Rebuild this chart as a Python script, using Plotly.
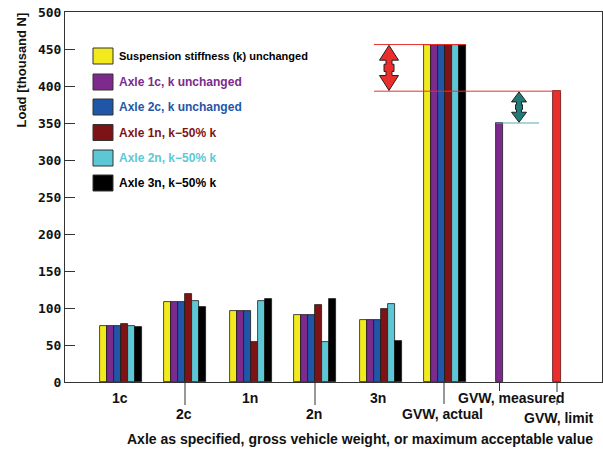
import plotly.graph_objects as go

# ---------------- data ----------------
categories = ["1c", "2c", "1n", "2n", "3n", "GVW, actual"]
series_names = [
    "Suspension stiffness (k) unchanged",
    "Axle 1c, k unchanged",
    "Axle 2c, k unchanged",
    "Axle 1n, k\u221250% k",
    "Axle 2n, k\u221250% k",
    "Axle 3n, k\u221250% k",
]
suspension_unchanged = [76, 108, 96, 90, 84, 456]
axle_1c_unchanged = [76, 108, 96, 90, 84, 456]
axle_2c_unchanged = [76, 108, 96, 90, 84, 456]
axle_1n_half = [78, 119, 54, 104, 99, 456]
axle_2n_half = [76, 110, 110, 54, 106, 456]
axle_3n_half = [75, 101, 112, 112, 56, 456]
gvw_measured_label = "GVW, measured"
gvw_measured = 350
gvw_limit_label = "GVW, limit"
gvw_limit = 393
y_ticks = [0, 50, 100, 150, 200, 250, 300, 350, 400, 450, 500]

series_values = [suspension_unchanged, axle_1c_unchanged, axle_2c_unchanged,
                 axle_1n_half, axle_2n_half, axle_3n_half]

# ---------------- style / layout ----------------
colors = ["#F2EA1D", "#7C2A8C", "#1F56A8", "#7D1315", "#5CC8D5", "#000000"]
text_colors = ["#000000", "#7C2A8C", "#1F56A8", "#7D1315", "#5CC8D5", "#000000"]
limit_color = "#EA2E2B"
teal = "#1F7A78"

W, H = 603, 450
L, R, T, B = 65, 1, 12, 68
PW = W - L - R
PH = H - T - B
X0 = L                # pixel of x=0
Y0 = H - B            # pixel of y=0

group_centers = [56, 120, 186, 250, 316, 380]  # x units (= pixels from left axis)
measured_center = 434.5
limit_center = 492
bar_w = 7

def px(xpix):
    return (xpix - L) / PW

def py(ypix):
    return (Y0 - ypix) / PH

fig = go.Figure()
for i, (name, vals) in enumerate(zip(series_names, series_values)):
    xs = [c + (i - 2.5) * bar_w for c in group_centers]
    fig.add_trace(go.Bar(
        x=xs, y=vals, width=bar_w, name=name,
        marker=dict(color=colors[i], line=dict(color="#1a1a1a", width=0.8)),
        showlegend=False,
    ))
fig.add_trace(go.Bar(x=[measured_center], y=[gvw_measured], width=bar_w,
                     marker=dict(color=colors[1], line=dict(color="#1a1a1a", width=0.8)),
                     showlegend=False))
fig.add_trace(go.Bar(x=[limit_center], y=[gvw_limit], width=8,
                     marker=dict(color=limit_color, line=dict(color="#5a1010", width=0.8)),
                     showlegend=False))

shapes = []
annotations = []

# reference lines
actual_val = series_values[0][5]
grp_right = group_centers[5] + 3 * bar_w
shapes.append(dict(type="line", xref="x", yref="y", x0=309, x1=grp_right,
                   y0=actual_val, y1=actual_val, line=dict(color=limit_color, width=1), layer="above"))
shapes.append(dict(type="line", xref="x", yref="y", x0=309, x1=limit_center + 4,
                   y0=gvw_limit, y1=gvw_limit, line=dict(color=limit_color, width=1), layer="above"))
shapes.append(dict(type="line", xref="x", yref="y", x0=measured_center - 3.5, x1=474,
                   y0=gvw_measured, y1=gvw_measured, line=dict(color="#5BA8B0", width=1.2), layer="above"))

def double_arrow(cx, top, bot, hw, sw, mw, hfrac, fill):
    span = top - bot
    h = span * hfrac
    m = span * 0.08
    mid = (top + bot) / 2
    pts = [
        (cx, top), (cx + hw, top - h), (cx + sw, top - h), (cx + sw, mid + m),
        (cx + mw, mid + m), (cx + mw, mid - m), (cx + sw, mid - m),
        (cx + sw, bot + h), (cx + hw, bot + h), (cx, bot),
        (cx - hw, bot + h), (cx - sw, bot + h), (cx - sw, mid - m),
        (cx - mw, mid - m), (cx - mw, mid + m), (cx - sw, mid + m),
        (cx - sw, top - h), (cx - hw, top - h),
    ]
    path = "M " + " L ".join(f"{x},{y}" for x, y in pts) + " Z"
    return dict(type="path", xref="x", yref="y", path=path,
                fillcolor=fill, line=dict(color="#222222", width=1), layer="above")

shapes.append(double_arrow(324, actual_val - 1, gvw_limit + 1, 9.5, 3, 5, 0.33, limit_color))
shapes.append(double_arrow(454, gvw_limit - 1, gvw_measured + 1, 7.5, 2.5, 3.5, 0.33, teal))

# x ticks (long ones for lower-row labels)
def vtick(xpix, y1, y2):
    shapes.append(dict(type="line", xref="paper", yref="paper", x0=px(xpix), x1=px(xpix),
                       y0=py(y1), y1=py(y2), line=dict(color="#333333", width=1)))

vtick(X0 + group_centers[1], Y0, 405)
vtick(X0 + group_centers[3], Y0, 405)
vtick(X0 + group_centers[5] - 1, Y0, 404)
vtick(X0 + measured_center, Y0, 391)
vtick(X0 + limit_center, Y0, 392)
vtick(X0 + limit_center, 400, 405)

# category labels
lab_font = dict(family="Liberation Sans, Arial", size=14, color="#111111", weight=700)
label_pos = [(120, 398), (184, 414), (250, 398), (314, 414), (378, 398), (442, 414)]
for text, (xp, yp) in zip(categories, label_pos):
    annotations.append(dict(text=text, xref="paper", yref="paper", x=px(xp), y=py(yp),
                            showarrow=False, font=lab_font, xanchor="center", yanchor="middle"))
annotations.append(dict(text=gvw_measured_label, xref="paper", yref="paper", x=px(511), y=py(398),
                        showarrow=False, font=lab_font, xanchor="center", yanchor="middle"))
annotations.append(dict(text=gvw_limit_label, xref="paper", yref="paper", x=px(559), y=py(418),
                        showarrow=False, font=lab_font, xanchor="center", yanchor="middle"))

# axis titles
annotations.append(dict(text="Axle as specified, gross vehicle weight, or maximum acceptable value",
                        xref="paper", yref="paper", x=px(360), y=py(439), showarrow=False,
                        font=dict(family="Liberation Sans, Arial", size=14, color="#111111", weight=700),
                        xanchor="center", yanchor="middle"))
annotations.append(dict(text="Load [thousand N]", xref="paper", yref="paper", x=px(21), y=py(11),
                        showarrow=False, textangle=-90,
                        font=dict(family="Liberation Sans, Arial", size=13, color="#111111", weight=700),
                        xanchor="center", yanchor="top"))

# custom legend
leg_y = [56, 82, 107, 132.5, 158, 183]
for i, (name, yc) in enumerate(zip(series_names, leg_y)):
    shapes.append(dict(type="rect", xref="paper", yref="paper",
                       x0=px(93), x1=px(113), y0=py(yc + 8), y1=py(yc - 8),
                       fillcolor=colors[i], line=dict(color="#333333", width=1)))
    annotations.append(dict(text=name, xref="paper", yref="paper", x=px(117), y=py(yc),
                            showarrow=False, xanchor="left", yanchor="middle",
                            font=dict(family="Liberation Sans, Arial", size=11 if i == 0 else 12,
                                      color=text_colors[i], weight=700)))

fig.update_layout(
    width=W, height=H,
    margin=dict(l=L, r=R, t=T, b=B, pad=0),
    paper_bgcolor="white", plot_bgcolor="white",
    barmode="overlay", bargap=0,
    shapes=shapes, annotations=annotations,
    showlegend=False,
)
fig.update_xaxes(range=[0, PW], showticklabels=False, ticks="", showgrid=False, zeroline=False,
                 showline=True, linecolor="#333333", linewidth=1, mirror=True, fixedrange=True)
fig.update_yaxes(range=[0, 500], tickvals=y_ticks, ticks="inside", ticklen=10, tickcolor="#333333",
                 tickfont=dict(family="DejaVu Sans Mono", size=13, color="#111111", weight=700),
                 showgrid=False, zeroline=False, showline=True, linecolor="#333333", linewidth=1,
                 mirror=True, fixedrange=True)

fig.write_html("out.html", config={"displayModeBar": False},
               post_script="document.body.style.margin='0';document.body.style.overflow='hidden';")
